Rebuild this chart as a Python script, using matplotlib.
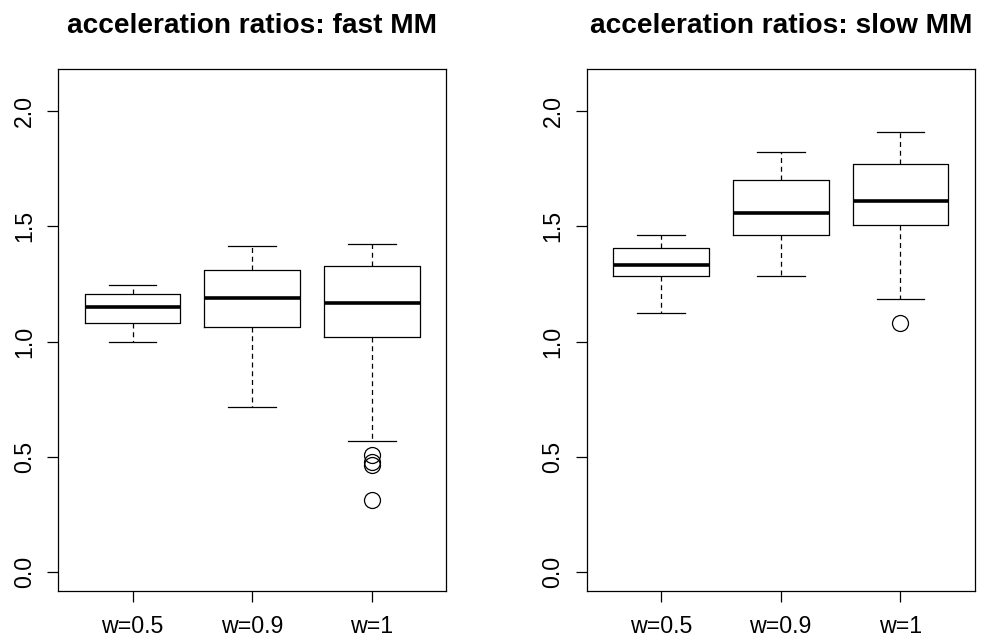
import matplotlib
matplotlib.use("Agg")
import matplotlib.pyplot as plt

plt.rcParams['font.family'] = ['Liberation Sans', 'DejaVu Sans']

categories = ["w=0.5", "w=0.9", "w=1"]

# fast MM
fast_whislo = [1.00, 0.714, 0.567]
fast_q1 = [1.081, 1.061, 1.018]
fast_med = [1.148, 1.191, 1.169]
fast_q3 = [1.208, 1.312, 1.329]
fast_whishi = [1.247, 1.414, 1.424]
fast_fliers = [[], [], [0.508, 0.478, 0.465, 0.312]]

# slow MM
slow_whislo = [1.122, 1.283, 1.184]
slow_q1 = [1.286, 1.463, 1.506]
slow_med = [1.330, 1.559, 1.609]
slow_q3 = [1.407, 1.703, 1.772]
slow_whishi = [1.461, 1.822, 1.910]
slow_fliers = [[], [], [1.081]]

titles = ["acceleration ratios: fast MM", "acceleration ratios: slow MM"]
yticks = [0.0, 0.5, 1.0, 1.5, 2.0]
ytick_labels = ["0.0", "0.5", "1.0", "1.5", "2.0"]

W, H = 983, 642
fig = plt.figure(figsize=(W / 100, H / 100), dpi=100)

panels = [
    (fast_whislo, fast_q1, fast_med, fast_q3, fast_whishi, fast_fliers),
    (slow_whislo, slow_q1, slow_med, slow_q3, slow_whishi, slow_fliers),
]
lefts = [58.3, 586.7]
width_px = 388.0
top_px, bot_px = 68.7, 591.3

for i, (wlo, q1, med, q3, whi, fl) in enumerate(panels):
    ax = fig.add_axes([lefts[i] / W, 1 - bot_px / H, width_px / W, (bot_px - top_px) / H])
    stats = []
    for j, cat in enumerate(categories):
        stats.append(dict(label=cat, whislo=wlo[j], q1=q1[j], med=med[j], q3=q3[j],
                          whishi=whi[j], fliers=fl[j]))
    ax.bxp(stats, positions=[1, 2, 3], widths=0.8, showfliers=True,
           boxprops=dict(color='black', linewidth=0.9),
           medianprops=dict(color='black', linewidth=2.6, solid_capstyle='butt'),
           whiskerprops=dict(color='black', linewidth=0.9, linestyle=(0, (4, 3))),
           capprops=dict(color='black', linewidth=0.9),
           capwidths=0.4,
           flierprops=dict(marker='o', markersize=11.5, markerfacecolor='none',
                           markeredgecolor='black', markeredgewidth=0.9))
    ax.set_xlim(0.38, 3.62)
    ax.set_ylim(-0.084, 2.184)
    ax.set_yticks(yticks)
    ax.set_yticklabels(ytick_labels)
    ax.set_xticks([1, 2, 3])
    ax.set_xticklabels(categories)
    ax.tick_params(axis='x', length=8, width=0.9, pad=9, labelsize=16.7)
    ax.tick_params(axis='y', length=8, width=0.9, pad=8, labelsize=16.7, labelrotation=90)
    for lab in ax.get_yticklabels():
        lab.set_va('center')
    for sp in ax.spines.values():
        sp.set_linewidth(0.9)
        sp.set_color('black')
    cx = (lefts[i] + width_px / 2) / W
    fig.text(cx, 1 - 33 / H, titles[i], ha='center', va='baseline',
             fontsize=20.2, fontweight='bold')

fig.savefig("out.png", dpi=100)
